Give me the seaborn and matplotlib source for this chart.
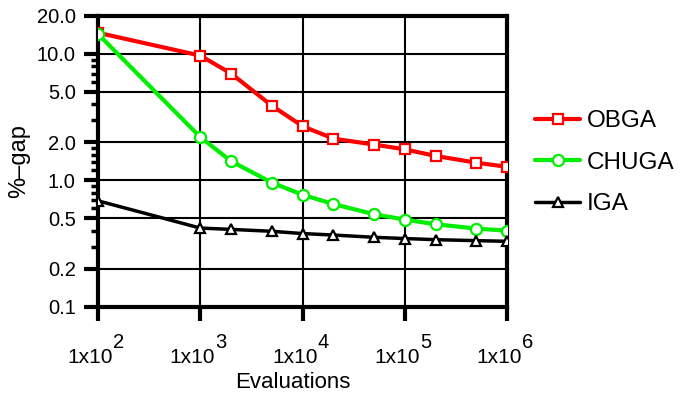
import numpy as np
import pandas as pd
import seaborn as sns
import matplotlib.pyplot as plt
from matplotlib.ticker import FixedLocator, FixedFormatter, NullFormatter

evaluations = [1e2, 1e3, 2e3, 5e3, 1e4, 2e4, 5e4, 1e5, 2e5, 5e5, 1e6]
obga = [14.7, 9.7, 7.0, 3.9, 2.68, 2.14, 1.92, 1.76, 1.56, 1.38, 1.28]
chuga = [14.4, 2.2, 1.42, 0.96, 0.77, 0.65, 0.54, 0.49, 0.45, 0.416, 0.40]
iga = [0.69, 0.42, 0.41, 0.396, 0.38, 0.37, 0.355, 0.347, 0.34, 0.334, 0.33]

series_names = ["OBGA", "CHUGA", "IGA"]
y_ticks = [0.1, 0.2, 0.5, 1.0, 2.0, 5.0, 10.0, 20.0]
x_ticks = [1e2, 1e3, 1e4, 1e5, 1e6]
x_exponents = ["2", "3", "4", "5", "6"]

df = pd.DataFrame({
    "Evaluations": evaluations * 3,
    "gap": obga + chuga + iga,
    "method": np.repeat(series_names, len(evaluations)),
})

sns.set_style("white")
plt.rcParams['font.family'] = ['Liberation Sans', 'DejaVu Sans']
plt.rcParams['text.color'] = 'black'
plt.rcParams['axes.labelcolor'] = 'black'

fig = plt.figure(figsize=(6.8, 3.96), dpi=100)
ax = fig.add_axes([0.144, 0.225, 0.602, 0.735])

styles = {
    "OBGA": dict(color="#ff0000", marker="s", ms=7.5, lw=3),
    "CHUGA": dict(color="#00ee00", marker="o", ms=8, lw=3),
    "IGA": dict(color="black", marker="^", ms=6.5, lw=2.5),
}

for name in series_names:
    st = styles[name]
    sns.lineplot(data=df[df.method == name], x="Evaluations", y="gap", ax=ax,
                 color=st["color"], lw=st["lw"], marker=st["marker"],
                 markersize=st["ms"], markerfacecolor="white",
                 markeredgecolor=st["color"], markeredgewidth=1.6,
                 label=name, zorder=3)

ax.set_xscale("log")
ax.set_yscale("log")
ax.set_xlim(1e2, 1e6)
ax.set_ylim(0.1, 20)

ax.yaxis.set_major_locator(FixedLocator(y_ticks))
ax.yaxis.set_major_formatter(FixedFormatter(["%.1f" % v for v in y_ticks]))
minor_y = [0.3, 0.4, 0.6, 0.7, 0.8, 0.9, 1.2, 1.4, 1.6, 1.8, 3, 4, 6, 7, 8, 9]
ax.yaxis.set_minor_locator(FixedLocator(minor_y))
ax.yaxis.set_minor_formatter(NullFormatter())

ax.xaxis.set_major_locator(FixedLocator(x_ticks))
ax.xaxis.set_major_formatter(NullFormatter())
ax.xaxis.set_minor_locator(FixedLocator([]))

# x tick labels as 1x10 with a full-size raised exponent
for t, e in zip(x_ticks, x_exponents):
    ax.annotate("1x10", xy=(t, 0), xycoords=("data", "axes fraction"),
                xytext=(15, -56), textcoords="offset pixels",
                ha="right", va="baseline", fontsize=15, annotation_clip=False)
    ax.annotate(e, xy=(t, 0), xycoords=("data", "axes fraction"),
                xytext=(15, -41), textcoords="offset pixels",
                ha="left", va="baseline", fontsize=14.5, annotation_clip=False)

ax.grid(True, which="major", color="black", lw=1.5)
ax.tick_params(axis="both", which="major", direction="out", length=10,
               width=3, color="black", labelsize=14.5, labelcolor="black",
               pad=6)
ax.tick_params(axis="y", which="minor", direction="out", length=5,
               width=2.5, color="black", left=True)
ax.tick_params(axis="x", which="major", bottom=True)
ax.tick_params(axis="y", which="major", left=True)

for sp in ax.spines.values():
    sp.set_color("black")
    sp.set_linewidth(3)

ax.set_xlabel("Evaluations", fontsize=16)
ax.xaxis.set_label_coords(0.477, -0.222)
ax.set_ylabel("%\u2013gap", fontsize=17, labelpad=5)

leg = ax.legend(loc="center left", bbox_to_anchor=(1.045, 0.495), frameon=False,
                fontsize=17.5, handlelength=1.85, handletextpad=0.25,
                labelspacing=0.8, borderaxespad=0)

fig.savefig("out.png", dpi=100)
